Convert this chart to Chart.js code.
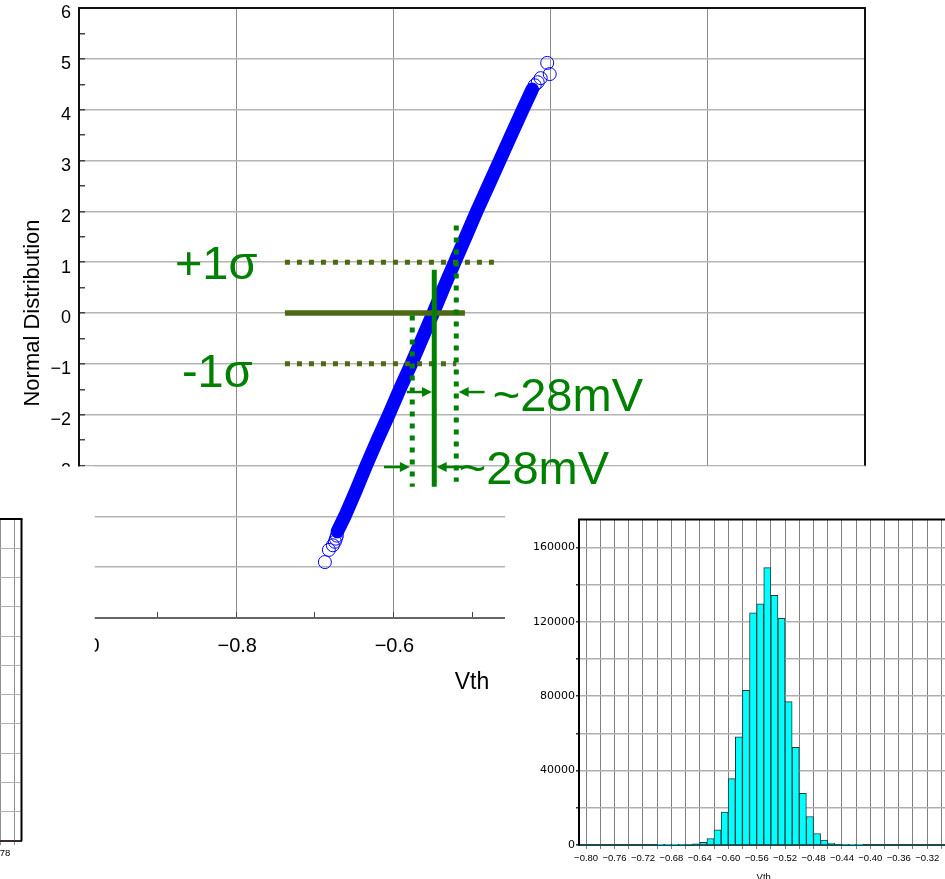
<!DOCTYPE html>
<html>
<head>
<meta charset="utf-8">
<title>Vth normal plot</title>
<script src="https://cdn.jsdelivr.net/npm/chart.js@4.4.0/dist/chart.umd.min.js"></script>
<style>
  body { margin: 0; background: #fff; }
  #wrap { position: relative; width: 945px; height: 879px; overflow: hidden; background: #fff; }
  #wrap canvas { position: absolute; }
</style>
</head>
<body>
<div id="wrap">
  <canvas id="prob-chart" width="945" height="879" style="left:0;top:0"></canvas>
  <canvas id="side-chart" width="130" height="370" style="left:-105px;top:505px"></canvas>
  <canvas id="hist-chart" width="440" height="400" style="left:530px;top:505px"></canvas>
</div>
<script>
// normal quantile (sigma) against measured Vth, dense middle of the sample
const bandSigma = [-4.3, -4.0, -3.5, -3.0, -2.5, -2.0, -1.5, -1.0, -0.5, 0, 0.5, 1.0, 1.5, 2.0, 2.5, 3.0, 3.5, 4.0, 4.4];
const bandVth = [-0.6713, -0.6618, -0.6478, -0.6345, -0.6205, -0.6058, -0.5919, -0.5772, -0.5633, -0.5493,
                 -0.5359, -0.5219, -0.5079, -0.4940, -0.4793, -0.4647, -0.4501, -0.4355, -0.4234];
// sparse points at both tails
const tailSigma = [-4.90, -4.66, -4.57, -4.50, -4.44, -4.38, 4.48, 4.54, 4.62, 4.70, 4.92];
const tailVth = [-0.6872, -0.6821, -0.6770, -0.6745, -0.6732, -0.6719, -0.4202, -0.4164, -0.4126, -0.4011, -0.4043];

// histogram, 10 mV bins
const histBinCenter = [-0.695, -0.685, -0.675, -0.665, -0.655, -0.645, -0.635, -0.625, -0.615, -0.605,
                       -0.595, -0.585, -0.575, -0.565, -0.555, -0.545, -0.535, -0.525, -0.515, -0.505,
                       -0.495, -0.485, -0.475, -0.465, -0.455, -0.445, -0.435, -0.425, -0.415];
const histCount = [20, 40, 80, 150, 320, 600, 1450, 3400, 8100, 17700,
                   35700, 58100, 83100, 124800, 129700, 149100, 134200, 121800, 77100, 52500,
                   27800, 15300, 6200, 2600, 1080, 400, 150, 60, 20];
const histXLabels = [-0.80, -0.76, -0.72, -0.68, -0.64, -0.60, -0.56, -0.52, -0.48, -0.44, -0.40, -0.36, -0.32];
const histYLabels = [0, 40000, 80000, 120000, 160000];
const sideXLabels = [-0.86, -0.82, -0.78];

// annotation values
const vthMean = -0.548;
const vthSigma = 0.028;
const sigmaLabels = ['+1\u03c3', '-1\u03c3'];
const spreadLabel = '~28mV';

const FONT = '"Liberation Sans", Arial, sans-serif';
const GREEN = '#008000';
const OLIVE = '#4a6a14';

function signed(v, digits) {
    const s = Math.abs(v).toFixed(digits);
    return v < 0 ? '\u2212' + s : s;
}

function isStep(v, step) {
    const k = v / step;
    return Math.abs(k - Math.round(k)) < 1e-6;
}

function inList(list, v) {
    return list.some(l => Math.abs(l - v) < 1e-9);
}

// labelled ticks plus one unlabelled grid tick after each
function gridTicks(labels, half, max) {
    const out = [];
    labels.forEach(l => {
        out.push({value: l});
        if (l + half <= max + 1e-9) out.push({value: +(l + half).toFixed(6)});
    });
    return out;
}

function line(ctx, x1, y1, x2, y2, color, width, dash) {
    ctx.save();
    ctx.strokeStyle = color;
    ctx.lineWidth = width;
    ctx.setLineDash(dash || []);
    ctx.beginPath();
    ctx.moveTo(x1, y1);
    ctx.lineTo(x2, y2);
    ctx.stroke();
    ctx.restore();
}

function arrow(ctx, xFrom, xTo, y) {
    const dir = xTo > xFrom ? 1 : -1;
    line(ctx, xFrom, y, xTo - dir * 6, y, GREEN, 2.5);
    ctx.save();
    ctx.fillStyle = GREEN;
    ctx.beginPath();
    ctx.moveTo(xTo, y);
    ctx.lineTo(xTo - dir * 10, y - 5);
    ctx.lineTo(xTo - dir * 10, y + 5);
    ctx.closePath();
    ctx.fill();
    ctx.restore();
}

const overlayPlugin = {
    id: 'overlay',
    beforeDatasetsDraw(chart) {
        const {ctx, chartArea: a, scales: {x, y}} = chart;
        const yCut = y.getPixelForValue(-3.02);
        // top and right frame of the plot
        line(ctx, a.left, a.top, a.right + 1, a.top, '#111', 2);
        line(ctx, a.right, a.top, a.right, y.getPixelForValue(-3), '#111', 2);
        // white panels over the lower corners
        ctx.save();
        ctx.fillStyle = '#fff';
        ctx.fillRect(0, yCut, x.getPixelForValue(-0.98), 879 - yCut);
        ctx.fillRect(x.getPixelForValue(-0.458), yCut, 945, 879 - yCut);
        ctx.restore();
    },
    afterDraw(chart) {
        const {ctx, scales: {x, y}} = chart;
        const px = v => x.getPixelForValue(v);
        const py = v => y.getPixelForValue(v);
        const lo = vthMean - vthSigma, hi = vthMean + vthSigma;

        // +/-1 sigma levels and the mean
        line(ctx, px(-0.738), py(1), px(-0.468), py(1), OLIVE, 5, [5, 7]);
        line(ctx, px(-0.738), py(-1), px(hi), py(-1), OLIVE, 5, [5, 7]);
        line(ctx, px(-0.738), py(0), px(-0.509), py(0), OLIVE, 5.5);

        line(ctx, px(lo), py(-0.05), px(lo), py(-3.42), GREEN, 5, [5, 7]);
        line(ctx, px(hi), py(1.72), px(hi), py(-3.32), GREEN, 5, [5, 7]);
        line(ctx, px(vthMean), py(0.85), px(vthMean), py(-3.42), GREEN, 5);

        arrow(ctx, px(vthMean - 0.035), px(vthMean - 0.003), py(-1.555));
        arrow(ctx, px(hi + 0.036), px(hi + 0.003), py(-1.555));
        arrow(ctx, px(lo - 0.036), px(lo - 0.003), py(-3.03));
        arrow(ctx, px(vthMean + 0.036), px(vthMean + 0.003), py(-3.03));

        ctx.save();
        ctx.fillStyle = GREEN;
        ctx.font = '47px ' + FONT;
        ctx.textBaseline = 'alphabetic';
        ctx.textAlign = 'left';
        ctx.fillText(sigmaLabels[0], px(-0.878), py(0.67));
        ctx.fillText(sigmaLabels[1], px(-0.869), py(-1.455));
        ctx.fillText(spreadLabel, px(-0.4736), py(-1.93));
        ctx.fillText(spreadLabel, px(-0.5168), py(-3.365));
        ctx.restore();
    }
};

new Chart(document.getElementById('prob-chart'), {
    type: 'scatter',
    data: {
        datasets: [{
            data: bandSigma.map((s, i) => ({x: bandVth[i], y: s})),
            showLine: true,
            borderColor: '#0000ff',
            borderWidth: 13.5,
            borderCapStyle: 'round',
            borderJoinStyle: 'round',
            pointRadius: 0,
            fill: false
        }, {
            data: tailSigma.map((s, i) => ({x: tailVth[i], y: s})),
            showLine: false,
            pointRadius: 6.5,
            pointBorderWidth: 1,
            borderColor: '#0000ff',
            backgroundColor: 'rgba(0,0,0,0)'
        }]
    },
    options: {
        responsive: false,
        animation: false,
        layout: {padding: {left: 0, top: 8, right: 80, bottom: 183}},
        plugins: {legend: {display: false}, tooltip: {enabled: false}},
        scales: {
            x: {
                type: 'linear',
                min: -1,
                max: 0,
                afterFit(s) { s.height = 78; s.paddingLeft = 0; s.paddingRight = 0; },
                ticks: {
                    stepSize: 0.1,
                    padding: 22,
                    labelOffset: 1,
                    color: '#000',
                    font: {family: FONT, size: 20},
                    maxRotation: 0,
                    autoSkip: false,
                    callback: v => isStep(v, 0.2) ? signed(v, 1) : ''
                },
                grid: {
                    color: c => c.tick && isStep(c.tick.value, 0.2) ? '#8c8c8c' : 'rgba(0,0,0,0)',
                    lineWidth: 1,
                    tickLength: -6,
                    tickColor: '#444'
                },
                border: {color: '#666', width: 2},
                title: {display: true, text: 'Vth', color: '#000', font: {family: FONT, size: 23}, padding: 0}
            },
            y: {
                min: -6,
                max: 6,
                afterFit(s) { s.width = 79; s.paddingTop = 0; s.paddingBottom = 0; },
                ticks: {
                    stepSize: 0.5,
                    padding: 14,
                    labelOffset: 5.5,
                    color: '#000',
                    font: {family: FONT, size: 18},
                    autoSkip: false,
                    callback: v => isStep(v, 1) ? signed(v, 0) : ''
                },
                grid: {
                    color: c => c.tick && isStep(c.tick.value, 1) ? '#b4b4b4' : 'rgba(0,0,0,0)',
                    lineWidth: 1.5,
                    tickLength: -6,
                    tickColor: '#444'
                },
                border: {color: '#111', width: 2},
                title: {display: true, text: 'Normal Distribution', color: '#000', font: {family: FONT, size: 22}, padding: {top: 20, bottom: 0}}
            }
        }
    },
    plugins: [overlayPlugin]
});

// top and right frame lines of the two small charts
const topFrame = {
    id: 'topFrame',
    beforeDatasetsDraw(chart) {
        const a = chart.chartArea;
        line(chart.ctx, a.left - 1, a.top, a.right + 1, a.top, '#000', 2);
        line(chart.ctx, a.right, a.top, a.right, a.bottom, '#000', 2);
    }
};

// neighbouring histogram, only its right edge shows
new Chart(document.getElementById('side-chart'), {
    type: 'bar',
    data: {datasets: []},
    options: {
        responsive: false,
        animation: false,
        layout: {padding: {left: 0, top: 14, right: 3.5, bottom: 0}},
        plugins: {legend: {display: false}, tooltip: {enabled: false}},
        scales: {
            x: {
                type: 'linear',
                min: -0.90,
                max: -0.75,
                offset: false,
                afterFit(s) { s.height = 34; s.paddingLeft = 0; s.paddingRight = 0; },
                afterBuildTicks(s) { s.ticks = gridTicks(sideXLabels, 0.02, -0.75); },
                ticks: {
                    padding: 2.6,
                    labelOffset: -2,
                    autoSkip: false,
                    maxRotation: 0,
                    color: '#000',
                    font: {family: FONT, size: 9.5},
                    callback: v => inList(sideXLabels, v) ? signed(v, 2) : ''
                },
                grid: {color: '#8f8f8f', tickLength: 4, offset: false},
                border: {color: '#3a2a2a', width: 2}
            },
            y: {
                min: 0,
                max: 220000,
                afterFit(s) { s.width = 20; s.paddingTop = 0; s.paddingBottom = 0; },
                ticks: {stepSize: 20000, display: false},
                grid: {color: '#b0b0b0'},
                border: {color: '#000', width: 2}
            }
        }
    },
    plugins: [topFrame]
});

new Chart(document.getElementById('hist-chart'), {
    type: 'bar',
    data: {
        datasets: [{
            data: histBinCenter.map((c, i) => ({x: c, y: histCount[i]})),
            backgroundColor: '#00ffff',
            borderColor: '#1d3a3a',
            borderWidth: 1,
            barPercentage: 1,
            categoryPercentage: 1
        }]
    },
    options: {
        responsive: false,
        animation: false,
        layout: {padding: {left: 0, top: 14.5, right: 21.5, bottom: 21.6}},
        plugins: {legend: {display: false}, tooltip: {enabled: false}},
        scales: {
            x: {
                type: 'linear',
                min: -0.81,
                max: -0.29,
                offset: false,
                afterFit(s) { s.height = 38.4; s.paddingLeft = 0; s.paddingRight = 0; },
                afterBuildTicks(s) { s.ticks = gridTicks(histXLabels, 0.02, -0.29); },
                ticks: {
                    padding: 4,
                    autoSkip: false,
                    maxRotation: 0,
                    color: '#000',
                    font: {family: FONT, size: 9.5},
                    callback: v => inList(histXLabels, v) ? signed(v, 2) : ''
                },
                grid: {color: '#808080', tickLength: 4, offset: false},
                border: {color: '#1e4a4a', width: 2},
                title: {display: true, text: 'Vth', color: '#000', font: {family: FONT, size: 9.5}, padding: 0}
            },
            y: {
                min: 0,
                max: 175000,
                afterFit(s) { s.width = 49; s.paddingTop = 0; s.paddingBottom = 0; },
                afterBuildTicks(s) { s.ticks = gridTicks(histYLabels, 20000, 175000); },
                ticks: {
                    padding: 1,
                    autoSkip: false,
                    color: '#000',
                    font: {family: '"DejaVu Sans", sans-serif', size: 11},
                    callback: v => inList(histYLabels, v) ? String(v) : ''
                },
                grid: {color: '#b0b0b0', lineWidth: 1.5, tickLength: 3, tickColor: '#333'},
                border: {color: '#000', width: 2}
            }
        }
    },
    plugins: [topFrame]
});
</script>
</body>
</html>
